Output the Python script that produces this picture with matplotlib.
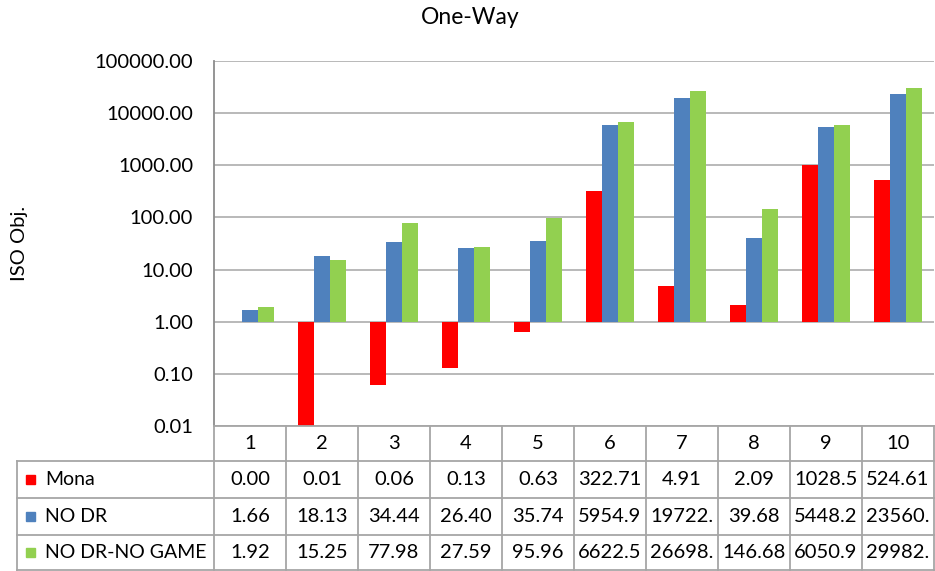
import matplotlib.pyplot as plt
import numpy as np
from matplotlib.patches import Rectangle

plt.rcParams['font.family'] = ['Lato', 'DejaVu Sans']

categories = ['1', '2', '3', '4', '5', '6', '7', '8', '9', '10']
series_names = ['Mona', 'NO DR', 'NO DR-NO GAME']
mona = [0.00, 0.01, 0.06, 0.13, 0.63, 322.71, 4.91, 2.09, 1028.52, 524.61]
no_dr = [1.66, 18.13, 34.44, 26.40, 35.74, 5954.92, 19722.40, 39.68, 5448.25, 23560.30]
no_dr_no_game = [1.92, 15.25, 77.98, 27.59, 95.96, 6622.54, 26698.10, 146.68, 6050.93, 29982.60]
colors = ['#FF0000', '#4F81BD', '#92D050']
yticks = [0.01, 0.1, 1, 10, 100, 1000, 10000, 100000]

W, H = 935, 571
fig = plt.figure(figsize=(W / 100, H / 100), dpi=100)

# plot area in pixel terms
left, right, top, bottom = 214, 934, 61, 426
ax = fig.add_axes([left / W, 1 - bottom / H, (right - left) / W, (bottom - top) / H])

x = np.arange(len(categories))
bw = 0.222
all_series = [mona, no_dr, no_dr_no_game]
for k, (vals, col) in enumerate(zip(all_series, colors)):
    v = np.array(vals, dtype=float)
    ok = v > 0
    # bars hang from 1.0 on the log axis, up or down
    ax.bar(x[ok] + (k - 1) * bw, v[ok] - 1, bottom=1, width=bw, color=col,
           edgecolor='none', zorder=3)

ax.set_yscale('log')
ax.set_ylim(0.01, 100000)
ax.set_xlim(-0.5, len(categories) - 0.5)
ax.set_yticks(yticks)
ax.set_yticklabels(['%.2f' % t for t in yticks], fontsize=14.5)
ax.minorticks_off()
ax.tick_params(axis='y', length=0, pad=15)
ax.set_xticks([])
ax.yaxis.grid(True, color='#b3b3b3', linewidth=1.3, zorder=0)
for s in ['top', 'right', 'bottom']:
    ax.spines[s].set_visible(False)
ax.spines['left'].set_color('#8c8c8c')
ax.spines['left'].set_linewidth(1.3)
ax.set_ylabel('ISO Obj.', fontsize=14.5)
ax.yaxis.set_label_coords((28 - left) / (right - left), 0.5)

fig.text(470 / W, 1 - 18 / H, 'One-Way', ha='center', va='center', fontsize=16.5)

# data table under the plot, drawn on an overlay in pixel units
tab = fig.add_axes([0, 0, 1, 1], facecolor='none')
tab.set_xlim(0, W)
tab.set_ylim(H, 0)
tab.axis('off')

lc = '#a6a6a6'
lw = 1.3
col_w = (right - left) / len(categories)
row_y = [426, 461, 498, 535, 570]
tab.plot([left, right], [row_y[0], row_y[0]], color=lc, lw=lw)
for y in row_y[1:]:
    tab.plot([17, right], [y, y], color=lc, lw=lw)
tab.plot([17, 17], [row_y[1], row_y[-1]], color=lc, lw=lw)
for i in range(len(categories) + 1):
    xx = left + i * col_w
    tab.plot([xx, xx], [row_y[0], row_y[-1]], color=lc, lw=lw)

fs = 14.5
for i, c in enumerate(categories):
    tab.text(left + (i + 0.5) * col_w, (row_y[0] + row_y[1]) / 2, c,
             ha='center', va='center', fontsize=fs)

for r, (name, vals, col) in enumerate(zip(series_names, all_series, colors)):
    yc = (row_y[r + 1] + row_y[r + 2]) / 2
    tab.add_patch(Rectangle((26, yc - 4.5), 9, 9, color=col))
    tab.text(45, yc, name, ha='left', va='center', fontsize=14)
    for i, v in enumerate(vals):
        s = ('%.2f' % v)[:6]
        tab.text(left + (i + 0.5) * col_w, yc, s, ha='center', va='center', fontsize=fs)

plt.savefig('out.png', dpi=100)
